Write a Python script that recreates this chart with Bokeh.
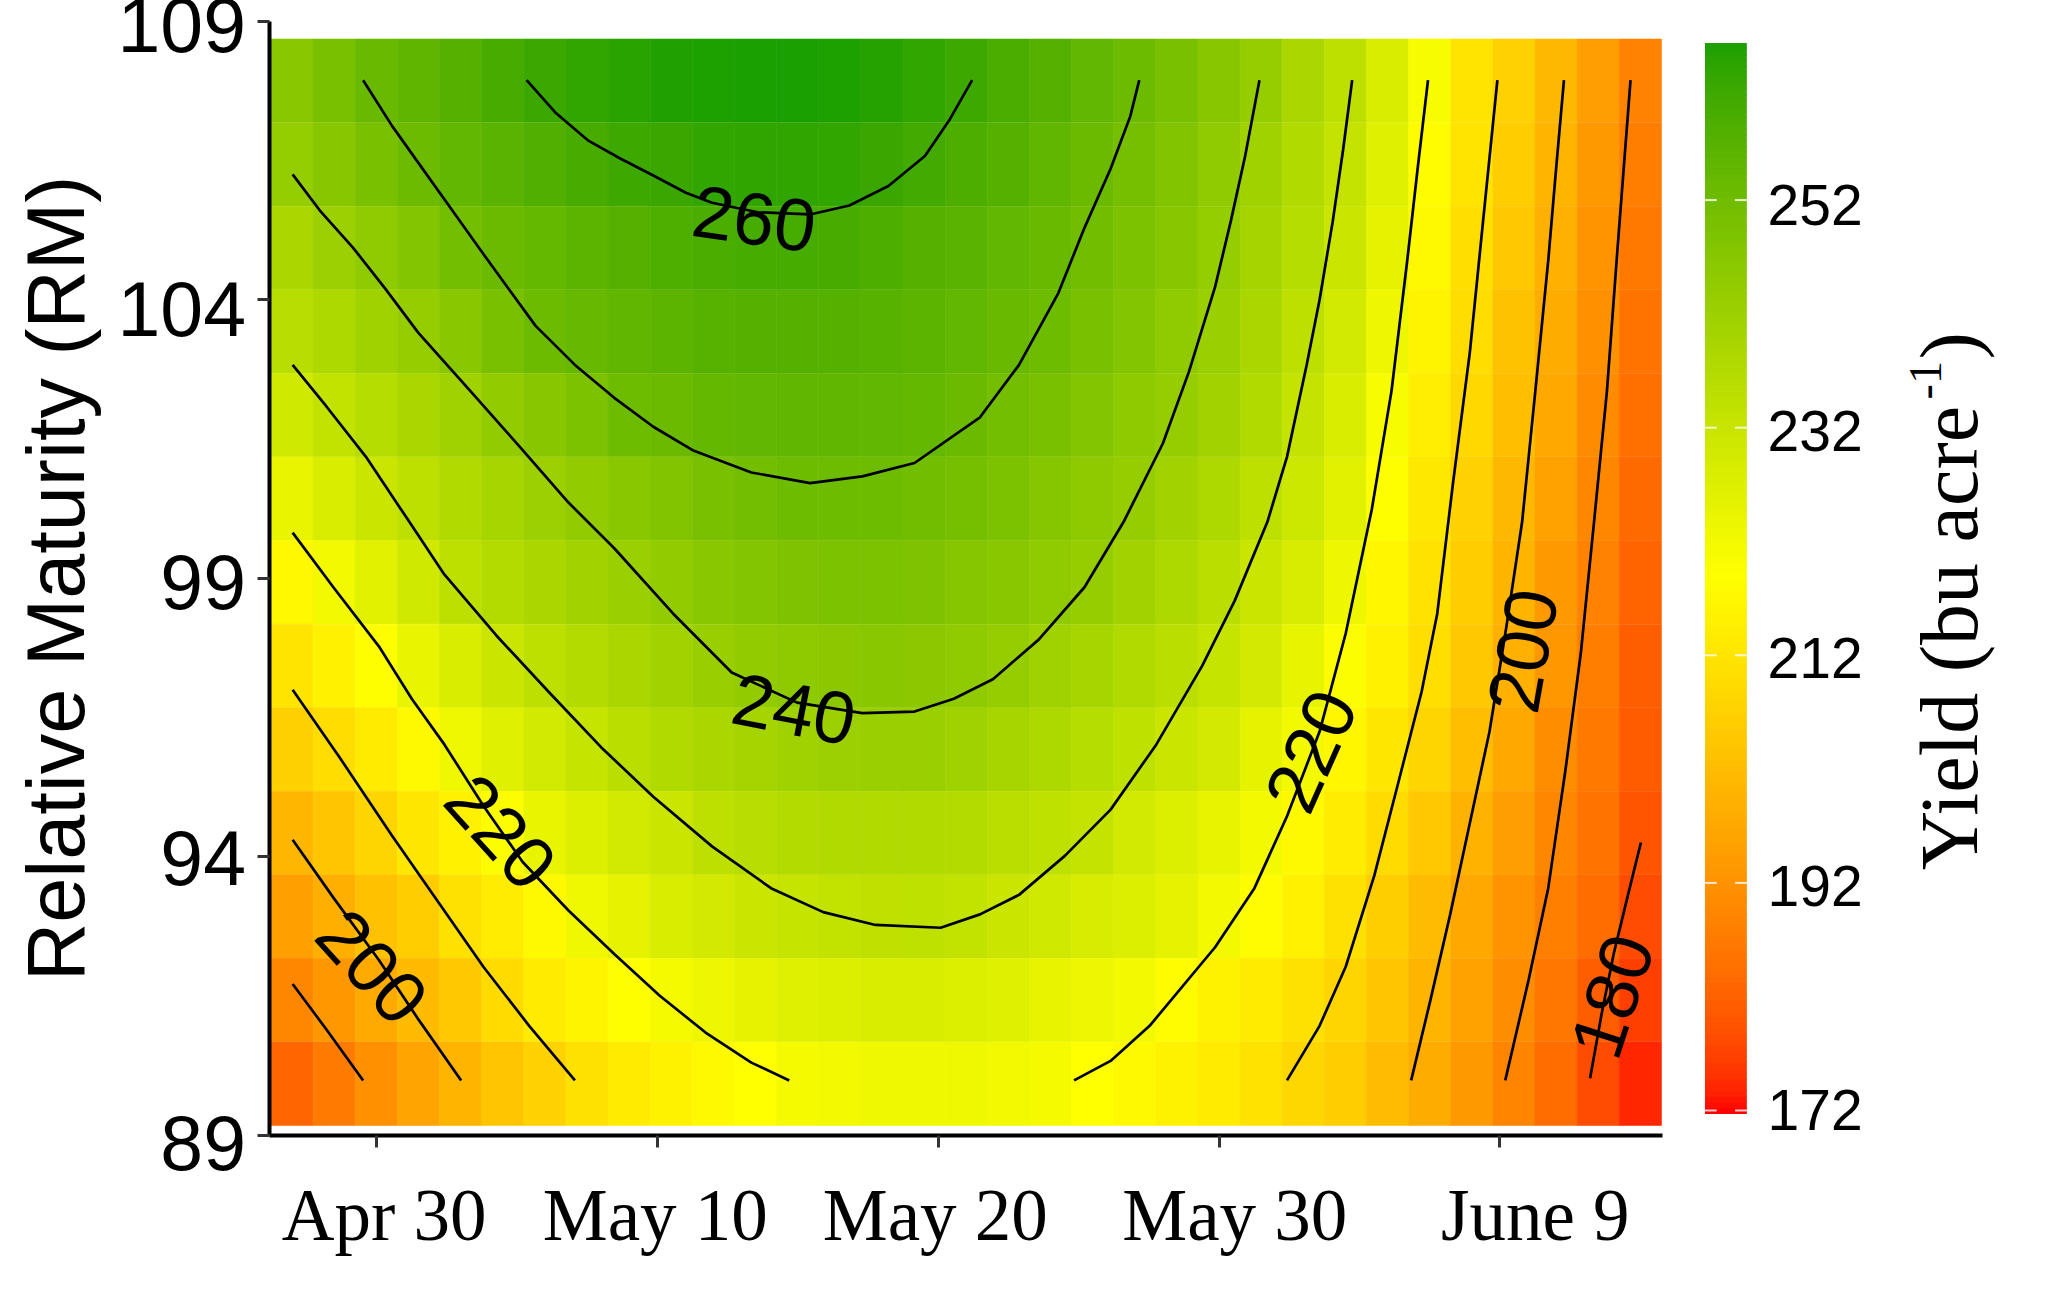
from bokeh.plotting import figure
from bokeh.models import Range1d, LinearColorMapper, FixedTicker, Label, ColumnDataSource
from bokeh.transform import transform
from bokeh.embed import file_html
from bokeh.resources import INLINE

# ---------- data ----------
planting_day = [117 + 1.5 * i for i in range(33)]        # tile centres (day of year)
rel_maturity = [108 - 1.5 * j for j in range(13)]        # tile centres, top row first

yield_r108 = [243,247,251,253.5,255.5,258.5,261,262.5,264,265,265.5,266,266,265.5,264.5,262.5,260.5,258,255.5,252.5,250,247,243.5,240,235.5,231,225,220,212,207.5,201,194.5,188.5]
yield_r106 = [240.5,243.5,247,250,252.5,254.5,256.5,258.5,260.5,261.5,262.5,263,263,262.5,261.5,259.5,257.5,255.5,253,250.5,248,245,241.5,237.5,233.5,229.5,224,218,212,206,200,193.5,187.5]
yield_r105 = [235.5,238.5,241.5,244.5,248.5,250.5,252,254,255.5,257,258,259,259,258.5,257.5,256,254.5,252.5,251,249,246.5,243.5,240.5,236.5,232.5,228,223,217.5,210.5,205,199,192.5,186.5]
yield_r103 = [232,234.5,237.5,240,243,247,250,251.5,253,254,255,256,256,255.5,255,254,252.5,251,249.5,247,244.5,241.5,239,235,231,226.5,221.5,216,210,203.5,198,191.5,185.5]
yield_r102 = [227,230,232.5,235.5,238,241,243.5,246,249.5,250.5,252,252.5,253,253,252.5,252,250.5,248.5,247,244.5,242,240,237,233.5,229.5,225,220,214.5,209,202.5,197,190.5,184.5]
yield_r100 = [222,225,228,231,233.5,236,238.5,241,243,245,247,248.5,249.5,249.5,249.5,249,248,246,244,242,240,237,234.5,231,227.5,223.5,218.5,213,207.5,201,195.5,189.5,183.5]
yield_r99 = [217,220.5,223.5,227,231,233,235.5,237,239,241,243,244.5,245.5,246,246,245.5,244,243,241.5,240,237,234.5,231.5,228.5,225.5,221.5,216.5,211.5,206,200,193.5,188.5,182.5]
yield_r97 = [212,215,218.5,222,225,228.5,231,233,235,237,239.5,241,242,242.5,243,242.5,241.5,240,238,236,234,231.5,229,226,222.5,219.5,215,210.5,205,199,193,187.5,181.5]
yield_r96 = [207,210,213.5,217.5,221,224,226.5,229,231.5,233.5,235,236.5,238,238.5,239,239,238,236,234.5,232.5,230.5,228,226,223,220.5,216.5,212.5,208,202.5,197,191,186.5,181]
yield_r94 = [200.5,204,208,212.5,215,219.5,222,224.5,226.5,228.5,231,232,233,233.5,234,234,233,231.5,230.5,229.5,226.5,224.5,222.5,220.5,217.5,214,209.5,205,199.5,194.5,189.5,185.5,180]
yield_r93 = [195,198.5,203,206,211,214,217.5,221,223,225,226,228,229,230,230.3,230.5,230,228.5,227,225.5,224.5,223,220.5,218,215,211,206.5,202,197,192.5,188,184,178.5]
yield_r91 = [189.5,193,197.5,201.5,205,209.5,213.5,216,218.5,220.3,221.5,223,224,224.5,225,225,224.5,224,222.5,221.5,220.5,218,215.5,213.5,211,208,204,200,195.5,191,186,181.5,176.5]
yield_r90 = [183,187,191.5,196,200,204,207.5,211,213.5,215.5,217.5,219,220.2,220.5,221,221,221,220.5,220.2,219,217.5,215.5,213.5,211.5,208.5,206,202,198,193.5,189,184,178.5,174]
yield_rows = [yield_r108, yield_r106, yield_r105, yield_r103, yield_r102, yield_r100, yield_r99,
              yield_r97, yield_r96, yield_r94, yield_r93, yield_r91, yield_r90]

c260_x = [125.35,126.37,127.53,128.70,129.86,131.02,131.95,133.58,135.44,136.84,138.23,139.53,140.42,141.21]
c260_y = [107.94,107.36,106.86,106.53,106.23,105.92,105.74,105.57,105.53,105.69,106.04,106.58,107.24,107.94]
c250_x = [119.53,120.56,121.49,122.65,123.81,125.67,127.07,128.47,129.86,131.26,133.35,135.44,137.30,139.16,141.49,142.88,144.28,145.21,146.14,146.84,147.16]
c250_y = [107.94,107.12,106.46,105.64,104.82,103.53,102.83,102.24,101.72,101.30,100.90,100.71,100.83,101.07,101.89,102.83,104.12,105.29,106.35,107.29,107.94]
c240_x = [117.02,117.99,119.16,120.33,121.49,123.35,125.21,126.84,128.47,130.56,132.65,134.98,137.30,139.16,140.56,141.95,143.58,145.21,146.60,148,148.93,149.86,150.42,150.93,151.44]
c240_y = [106.25,105.60,104.94,104.19,103.41,102.36,101.30,100.36,99.54,98.37,97.31,96.77,96.58,96.61,96.84,97.19,97.90,98.84,100.01,101.42,102.71,104.23,105.41,106.58,107.94]
c230_x = [117.02,118.23,119.63,121.02,122.42,124.28,126.14,128,129.86,131.95,134.05,135.91,137.77,140.09,141.49,142.88,144.51,146.14,147.77,149.40,150.56,151.72,152.42,153.12,153.58,154.05,154.42,154.74]
c230_y = [102.83,102.08,101.18,100.13,99.07,97.97,96.96,95.97,95.08,94.19,93.44,93.01,92.78,92.73,92.97,93.32,94.02,94.85,96.02,97.43,98.60,100.01,101.18,102.83,104,105.41,106.70,107.94]
c220a_x = [117.02,118.47,120.09,121.26,122.42,123.81,125.21,126.84,128.47,130.09,131.72,133.35,134.70]
c220a_y = [99.82,98.84,97.78,96.84,96.02,94.92,93.91,93.04,92.26,91.51,90.85,90.31,89.99]
c220b_x = [144.84,146.14,147.53,149.86,151.26,152.42,153.58,154.51,155.44,156.14,156.70,157.07,157.44]
c220b_y = [89.99,90.34,90.97,92.38,93.44,94.73,96.25,98.01,100.24,102.36,104.70,106.35,107.94]
c210a_x = [117.02,118.70,120.56,122.19,123.81,125.44,127.07]
c210a_y = [97.0,95.78,94.38,93.20,92.03,90.97,89.99]
c210b_x = [152.42,153.58,154.51,155.53,156.37,157.21,157.77,158.33,158.93,159.40,159.91]
c210b_y = [89.99,90.97,92.03,93.67,95.31,96.96,98.37,100.71,103.06,105.41,107.94]
c200a_x = [117.02,118.47,120.09,121.49,123.02]
c200a_y = [94.31,93.27,92.15,91.09,89.99]
c200b_x = [156.84,157.53,158.23,158.93,159.63,160.23,160.79,161.26,161.72,162,162.28]
c200b_y = [89.99,91.44,92.97,94.61,96.25,98.13,100.01,102.36,104.70,106.35,107.94]
c190a_x = [117.02,118.23,119.53]
c190a_y = [91.72,90.9,89.99]
c190b_x = [160.19,161.02,161.72,162.33,162.88,163.35,163.81,164.19,164.65]
c190b_y = [89.99,91.79,93.44,95.55,97.66,100.01,102.36,104.94,107.94]
c180_x = [163.21,163.63,164.05,164.56,165.02]
c180_y = [90.03,91.21,92.26,93.32,94.26]
contours_x = [c260_x,c250_x,c240_x,c230_x,c220a_x,c220b_x,c210a_x,c210b_x,c200a_x,c200b_x,c190a_x,c190b_x,c180_x]
contours_y = [c260_y,c250_y,c240_y,c230_y,c220a_y,c220b_y,c210a_y,c210b_y,c200a_y,c200b_y,c190a_y,c190b_y,c180_y]

contour_label_text = ["260","240","220","200","220","200","180"]
contour_label_x = [133.45,134.87,124.43,119.85,153.28,160.82,164.0]
contour_label_y = [105.45,96.65,94.45,92.03,95.9,97.7,91.5]
contour_label_angle = [-8,-11,-48,-48,66,80,72]

date_ticks = [120,130,140,150,160]
date_labels = ["Apr 30","May 10","May 20","May 30","June 9"]
date_label_x = [120.28,129.93,139.9,150.56,161.26]
rm_ticks = [89,94,99,104,109]
rm_label_nudge = [-7,-1,-4,-9,-4]
bar_ticks = [172,192,212,232,252]
bar_label_nudge = [0,-3,-3,-3,-5]
bar_high = 266
bar_top = 265.5

# ---------- colour scale: red - yellow - green blended in Lab, as the original scale ----------
def _lin(c):
    c /= 255.0
    return c/12.92 if c <= 0.04045 else ((c+0.055)/1.055)**2.4
def _gam(c):
    c = 12.92*c if c <= 0.0031308 else 1.055*c**(1/2.4)-0.055
    return max(0, min(255, int(round(c*255))))
def _f(t):
    return t**(1/3) if t > 0.008856 else 7.787*t+16/116
def _fi(t):
    return t**3 if t**3 > 0.008856 else (t-16/116)/7.787
def to_lab(rgb):
    r, g, b = [_lin(float(v)) for v in rgb]
    X = (0.4124*r+0.3576*g+0.1805*b)/0.95047
    Y = 0.2126*r+0.7152*g+0.0722*b
    Z = (0.0193*r+0.1192*g+0.9505*b)/1.08883
    return 116*_f(Y)-16, 500*(_f(X)-_f(Y)), 200*(_f(Y)-_f(Z))
def to_hex(lab):
    L, A, B = lab
    fy = (L+16)/116
    X, Y, Z = 0.95047*_fi(fy+A/500), _fi(fy), 1.08883*_fi(fy-B/200)
    r = 3.2406*X-1.5372*Y-0.4986*Z
    g = -0.9689*X+1.8758*Y+0.0415*Z
    b = 0.0557*X-0.2040*Y+1.0570*Z
    return "#%02x%02x%02x" % (_gam(max(r,0)), _gam(max(g,0)), _gam(max(b,0)))
def blend(a, b, n, power=1.0):
    la, lb = to_lab(a), to_lab(b)
    return [to_hex(tuple(la[k]+(lb[k]-la[k])*(i/(n-1))**power for k in range(3))) for i in range(n)]
RED, YELLOW, GREEN = (255,0,0), (255,255,0), (26,160,0)
bar_palette = blend(RED,YELLOW,128) + blend(YELLOW,GREEN,128)
tile_palette = blend(RED,YELLOW,128) + blend(YELLOW,GREEN,128,0.8)   # the tiles read a little greener than the bar
bar_mapper = LinearColorMapper(palette=bar_palette, low=172, high=bar_high)
tile_mapper = LinearColorMapper(palette=tile_palette, low=172, high=bar_high)

# ---------- figure: the frame fills the page, the axes sit at fixed places inside it ----------
# the reference's top label reaches the very top of the image, so the canvas starts at the page's top
W, H = 2032, 1293
p = figure(width=W, height=H, output_backend="svg", toolbar_location=None,
           x_range=Range1d(106.62, 178.96), y_range=Range1d(86.31, 109.513),
           min_border=0, margin=(-8, 0, 0, 0))
p.outline_line_color = None
p.grid.visible = False
p.background_fill_color = "white"
p.extra_y_ranges = {"bar": Range1d(156.62, 270.24)}

xs = [x for _ in rel_maturity for x in planting_day]
ys = [y - 0.07 for y in rel_maturity for _ in planting_day]
vs = [v for row in yield_rows for v in row]
src = ColumnDataSource(dict(x=xs, y=ys, v=vs))
p.rect("x", "y", width=1.5, height=1.495, source=src, fill_color=transform("v", tile_mapper),
       line_color=transform("v", tile_mapper), line_width=0.6)

for cx, cy in zip(contours_x, contours_y):
    p.line(cx, cy, line_color="black", line_width=2.7)

for t, x, y, a in zip(contour_label_text, contour_label_x, contour_label_y, contour_label_angle):
    p.add_layout(Label(x=x, y=y, text=t, angle=a, angle_units="deg", text_align="center",
                       text_baseline="middle", text_font="Liberation Sans", text_font_size="74px",
                       text_color="black"))

# axes
xa = p.xaxis[0]
xa.fixed_location = 89
xa.ticker = FixedTicker(ticks=date_ticks)
xa.major_label_overrides = {t: "" for t in date_ticks}
xa.bounds = (116.20, 165.8)
xa.axis_line_width = 4
xa.major_tick_line_width = 3
xa.major_tick_in = 0
xa.major_tick_out = 12
xa.minor_tick_line_color = None
xa.axis_line_color = "black"
xa.major_tick_line_color = "#333333"

ya = p.yaxis[0]
ya.fixed_location = 116.20
ya.bounds = (89, 109)
ya.ticker = FixedTicker(ticks=rm_ticks)
ya.major_label_overrides = {t: "" for t in rm_ticks}
ya.axis_line_width = 4
ya.major_tick_line_width = 3
ya.major_tick_in = 0
ya.major_tick_out = 12
ya.minor_tick_line_color = None
ya.axis_line_color = "black"
ya.major_tick_line_color = "#333333"
ya.axis_label = "Relative Maturity (RM)"
ya.axis_label_text_font = "Liberation Sans"
ya.axis_label_text_font_size = "81px"
ya.axis_label_text_font_style = "normal"
ya.axis_label_text_color = "black"
ya.axis_label_standoff = 157

for t, n in zip(rm_ticks, rm_label_nudge):
    p.add_layout(Label(x=115.36, y=t, y_offset=n, text=str(t), text_align="right", text_baseline="middle",
                       text_font="Liberation Sans", text_font_size="77px", text_color="black"))

for t, x in zip(date_labels, date_label_x):
    p.add_layout(Label(x=x, y=87.57, text=t, text_align="center", text_baseline="alphabetic",
                       text_font="Liberation Serif", text_font_size="73px", text_color="black"))

# colour bar
bar_l, bar_r = 167.30, 168.79
bar_vals = [172 + 0.5*i for i in range(int((bar_top-172)*2)+1)]
p.rect(x=(bar_l+bar_r)/2, y="b", width=bar_r-bar_l, height=0.6, y_range_name="bar",
       source=ColumnDataSource(dict(b=bar_vals)),
       fill_color=transform("b", bar_mapper), line_color=None)
for t, n in zip(bar_ticks, bar_label_nudge):
    p.segment([bar_l, bar_r-0.42], [t, t], [bar_l+0.42, bar_r], [t, t], y_range_name="bar",
              line_color="white", line_width=2, line_alpha=0.8)
    p.add_layout(Label(x=169.53, y=t, y_range_name="bar", text=str(t), y_offset=n,
                       text_align="left", text_baseline="middle",
                       text_font="Liberation Sans", text_font_size="57px", text_color="black"))

# colour-bar title, reading upward
for txt, x, y, size in [("Yield (bu acre", 176.0, 89 + (1143.3-878)/55.735, "82px"),
                        ("-1", 175.14, 89 + (1143.3-407)/55.735, "46px"),
                        (")", 176.0, 89 + (1143.3-367)/55.735, "82px")]:
    p.add_layout(Label(x=x, y=y, text=txt, angle=90, angle_units="deg",
                       text_align="left", text_baseline="alphabetic", text_font="Liberation Serif",
                       text_font_size=size, text_color="black"))

open("out.html", "w").write(file_html(p, INLINE))
